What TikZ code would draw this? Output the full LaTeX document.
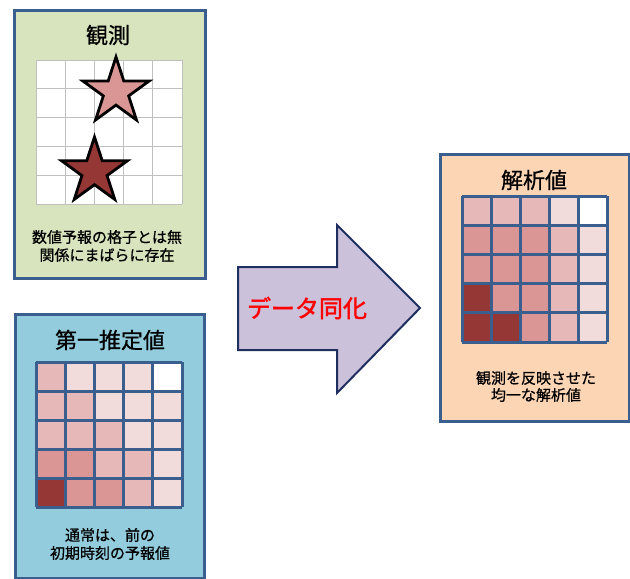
\documentclass[tikz,border=0pt]{standalone}
\usepackage{fontspec}
\setmainfont{Noto Sans CJK JP}[FakeBold=0.7]
\newfontfamily\jpbold[FakeBold=1.8]{Noto Sans CJK JP}
\usetikzlibrary{positioning}
\definecolor{panelline}{HTML}{3A5F8E}
\definecolor{obsfill}{HTML}{D7E4BD}
\definecolor{fgfill}{HTML}{93CDDD}
\definecolor{anfill}{HTML}{FCD5B5}
\definecolor{arrowfill}{HTML}{CCC1DA}
\definecolor{arrowline}{HTML}{1F3060}
\definecolor{cz}{HTML}{FFFFFF}
\definecolor{ca}{HTML}{F2DCDB}
\definecolor{cb}{HTML}{E6B9B8}
\definecolor{cc}{HTML}{D99694}
\definecolor{cd}{HTML}{953735}
\definecolor{obsgridline}{HTML}{BFBFBF}
\tikzset{
  panel/.style={draw=panelline, line width=2.5pt, inner sep=0pt, anchor=north west},
  paneltitle/.style={font=\fontsize{22}{26}\selectfont, inner sep=0pt},
  panelbody/.style={font=\fontsize{15}{18}\selectfont, align=center, inner sep=0pt},
  starshape/.style={draw=black, line width=2.8pt, line join=miter},
  cellline/.style={draw=panelline, line width=3pt},
}
\begin{document}
\begin{tikzpicture}[x=1pt,y=-1pt]
\useasboundingbox (0,0) rectangle (630,579);
% panels
\node[panel, fill=obsfill, minimum width=191pt, minimum height=268pt] (obs) at (13,9) {};
\node[panel, fill=fgfill, minimum width=189pt, minimum height=264pt] (fg) at (14,313) {};
\node[panel, fill=anfill, minimum width=189pt, minimum height=267pt] (an) at (439,153) {};
% observation grid
\fill[white] (36,60) rectangle (182,204);
\foreach \k in {0,...,5} {
  \draw[obsgridline, line width=1pt] ({36+\k*29.2},60) -- ({36+\k*29.2},204);
  \draw[obsgridline, line width=1pt] (36,{60+\k*28.8}) -- (182,{60+\k*28.8});
}
% stars
\draw[starshape, fill=cc]
  (116,91.8) +(-90:34.8) -- +(-54:13.3) -- +(-18:34.8) -- +(18:13.3) -- +(54:34.8)
  -- +(90:13.3) -- +(126:34.8) -- +(162:13.3) -- +(198:34.8) -- +(234:13.3) -- cycle;
\draw[starshape, fill=cd]
  (94.5,171.5) +(-90:34.5) -- +(-54:13.2) -- +(-18:34.5) -- +(18:13.2) -- +(54:34.5)
  -- +(90:13.2) -- +(126:34.5) -- +(162:13.2) -- +(198:34.5) -- +(234:13.2) -- cycle;
% first guess grid
\foreach \c [count=\i from 0] in {cb,ca,ca,ca,cz, cb,cb,ca,ca,ca, cb,cb,cb,ca,ca, cc,cc,cb,cb,ca, cd,cc,cc,cb,ca} {
  \pgfmathtruncatemacro\col{mod(\i,5)}
  \pgfmathtruncatemacro\row{div(\i,5)}
  \fill[\c] ({36+\col*29.2},{362+\row*29}) rectangle ++(29.2,29);
}
\foreach \k in {0,...,5} {
  \draw[cellline] ({36+\k*29.2},362) -- ({36+\k*29.2},507);
  \draw[cellline] (36,{362+\k*29}) -- (182,{362+\k*29});
}
% analysis grid
\foreach \c [count=\i from 0] in {cb,cb,cb,ca,cz, cc,cc,cc,cb,ca, cc,cc,cc,cb,ca, cd,cc,cc,cb,ca, cd,cd,cc,cb,ca} {
  \pgfmathtruncatemacro\col{mod(\i,5)}
  \pgfmathtruncatemacro\row{div(\i,5)}
  \fill[\c] ({462+\col*29},{196+\row*29.2}) rectangle ++(29,29.2);
}
\foreach \k in {0,...,5} {
  \draw[cellline] ({462+\k*29},196) -- ({462+\k*29},342);
  \draw[cellline] (462,{196+\k*29.2}) -- (607,{196+\k*29.2});
}
% titles and texts
\node[paneltitle] (obstitle) at (108,35) {観測};
\node[panelbody] (obstext) at (107,246) {数値予報の格子とは無\\関係にまばらに存在};
\node[paneltitle] (fgtitle) at (110,340) {第一推定値};
\node[panelbody] (fgtext) at (110,544) {通常は、前の\\初期時刻の予報値};
\node[paneltitle] (antitle) at (534,180) {解析値};
\node[panelbody, font=\fontsize{15}{17}\selectfont] (antext) at (536,386.5) {観測を反映させた\\均一な解析値};
% arrow
\draw[fill=arrowfill, draw=arrowline, line width=2pt, line join=miter]
  (238,267) -- (337,267) -- (337,225) -- (420,308) -- (337,393) -- (337,350) -- (238,350) -- cycle;
\node[inner sep=0pt, text=red, font=\jpbold\fontsize{24}{28}\selectfont] (da) at (307,308) {データ同化};
\end{tikzpicture}
\end{document}
